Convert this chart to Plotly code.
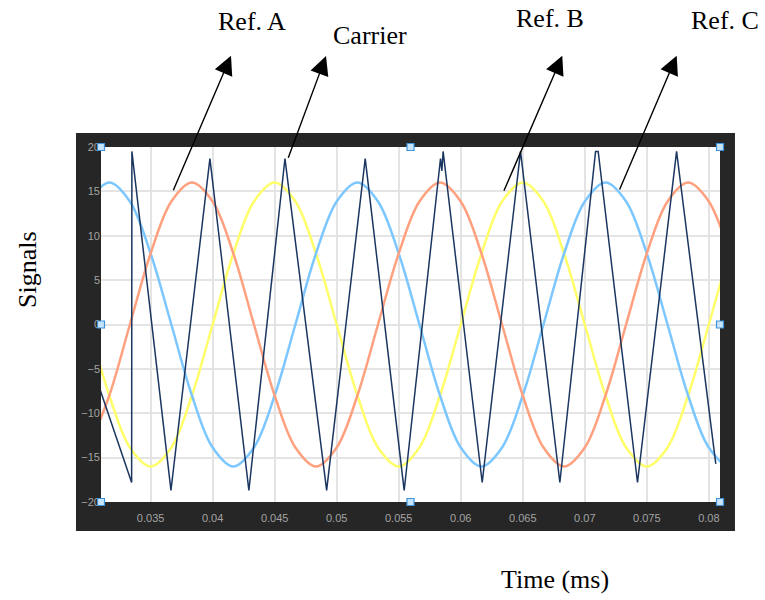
import plotly.graph_objects as go

# Shared time samples (s) for the three sinusoidal references
ref_t = [0.03000, 0.03167, 0.03333, 0.03500, 0.03667, 0.03833, 0.04000, 0.04167,
         0.04333, 0.04500, 0.04667, 0.04833, 0.05000, 0.05167, 0.05333, 0.05500,
         0.05667, 0.05833, 0.06000, 0.06167, 0.06333, 0.06500, 0.06667, 0.06833,
         0.07000, 0.07167, 0.07333, 0.07500, 0.07667, 0.07833, 0.08000, 0.08167, 0.08333]
ref_a_v = [-13.86, -8, 0, 8, 13.86, 16, 13.86, 8, 0, -8, -13.86, -16,
           -13.86, -8, 0, 8, 13.86, 16, 13.86, 8, 0, -8, -13.86, -16,
           -13.86, -8, 0, 8, 13.86, 16, 13.86, 8, 0]
ref_b_v = [0, -8, -13.86, -16, -13.86, -8, 0, 8, 13.86, 16, 13.86, 8,
           0, -8, -13.86, -16, -13.86, -8, 0, 8, 13.86, 16, 13.86, 8,
           0, -8, -13.86, -16, -13.86, -8, 0, 8, 13.86]
ref_c_v = [13.86, 16, 13.86, 8, 0, -8, -13.86, -16, -13.86, -8, 0, 8,
           13.86, 16, 13.86, 8, 0, -8, -13.86, -16, -13.86, -8, 0, 8,
           13.86, 16, 13.86, 8, 0, -8, -13.86, -16, -13.86]

# Triangular carrier vertices
carrier_t = [0.03033, 0.03347, 0.03349, 0.03664, 0.03978, 0.04292, 0.04583, 0.04919,
             0.05230, 0.05544, 0.05837, 0.05848, 0.05858, 0.06173, 0.06482, 0.06799,
             0.07087, 0.07108, 0.07425, 0.07740, 0.08056]
carrier_v = [-4.9, -17.8, 19.5, -18.7, 18.7, -18.7, 18.7, -18.7,
             18.7, -18.7, 18.7, 17.3, 19.5, -17.8, 19.5, -17.8,
             19.5, 19.5, -17.8, 19.5, -15.7]

x_tickvals = [0.035, 0.04, 0.045, 0.05, 0.055, 0.06, 0.065, 0.07, 0.075, 0.08]
x_ticktext = ["0.035", "0.04", "0.045", "0.05", "0.055", "0.06", "0.065", "0.07", "0.075", "0.08"]
y_tickvals = [-20, -15, -10, -5, 0, 5, 10, 15, 20]

ORANGE = "#ffa07f"
YELLOW = "#ffff6a"
BLUE = "#7cc7ff"
NAVY = "#1b3660"
FRAME = "#262626"

fig = go.Figure()
fig.add_trace(go.Scatter(x=ref_t, y=ref_b_v, mode="lines", line=dict(color=YELLOW, width=2.5, shape="spline")))
fig.add_trace(go.Scatter(x=ref_t, y=ref_c_v, mode="lines", line=dict(color=BLUE, width=2.5, shape="spline")))
fig.add_trace(go.Scatter(x=ref_t, y=ref_a_v, mode="lines", line=dict(color=ORANGE, width=2.5, shape="spline")))
fig.add_trace(go.Scatter(x=carrier_t, y=carrier_v, mode="lines", line=dict(color=NAVY, width=1.5)))

shapes = [
    # dark scope frame, then the white plotting area on top of it
    dict(type="rect", xref="paper", yref="paper", x0=-0.0404, x1=1.0242, y0=-0.0817, y1=1.0394,
         fillcolor=FRAME, line=dict(width=0), layer="below"),
    dict(type="rect", xref="paper", yref="paper", x0=0, x1=1, y0=0, y1=1,
         fillcolor="white", line=dict(width=0), layer="below"),
]
# small selection handles on corners and edge midpoints
for hx, hy in [(0, 0), (0.5, 0), (1, 0), (0, 0.5), (1, 0.5), (0, 1), (0.5, 1), (1, 1)]:
    shapes.append(dict(type="rect", xref="paper", yref="paper",
                       xsizemode="pixel", ysizemode="pixel", xanchor=hx, yanchor=hy,
                       x0=-3.5, x1=3.5, y0=-3.5, y1=3.5,
                       fillcolor="#c7e4fb", line=dict(color="#3d93dc", width=1.2), layer="above"))

serif = "Liberation Serif, Times New Roman, serif"
ann = []
for label, x, y in [("Ref. A", 0.2447, 1.3549), ("Carrier", 0.4346, 1.3127),
                    ("Ref. B", 0.7249, 1.3620), ("Ref. C", 1.0081, 1.3558)]:
    ann.append(dict(text=label, x=x, y=y, xref="paper", yref="paper", showarrow=False,
                    xanchor="center", yanchor="middle", font=dict(family=serif, size=26, color="black")))

# arrows from each curve to its label
for x, y, ax, ay in [(0.2100, 1.2572, -58.3, 136.0), (0.3635, 1.2563, -38.3, 103.3),
                     (0.7452, 1.2572, -59.0, 136.6), (0.9300, 1.2572, -57.7, 135.3)]:
    ann.append(dict(text="", x=x, y=y, xref="paper", yref="paper", ax=ax, ay=ay,
                    showarrow=True, arrowhead=2, arrowsize=2.7, arrowwidth=1.4, arrowcolor="black"))

ann.append(dict(text="Signals", x=-0.1195, y=0.6535, xref="paper", yref="paper", showarrow=False,
                textangle=-90, xanchor="center", yanchor="middle",
                font=dict(family=serif, size=26, color="black")))
ann.append(dict(text="Time (ms)", x=0.7334, y=-0.2197, xref="paper", yref="paper", showarrow=False,
                xanchor="center", yanchor="middle", font=dict(family=serif, size=26, color="black")))

tick_font = dict(family="Liberation Sans, Arial, sans-serif", size=11, color="#a3a3a3")
fig.update_layout(
    width=765, height=600,
    margin=dict(l=101, r=45, t=147, b=98),
    paper_bgcolor="white", plot_bgcolor="white",
    showlegend=False,
    shapes=shapes, annotations=ann,
    xaxis=dict(range=[0.031, 0.0809], tickvals=x_tickvals, ticktext=x_ticktext,
               showgrid=True, gridcolor="#e4e4e4", gridwidth=1.5, zeroline=False,
               showline=False, ticks="", tickfont=tick_font, ticklabelstandoff=8),
    yaxis=dict(range=[-20, 20], tickvals=y_tickvals,
               showgrid=True, gridcolor="#e4e4e4", gridwidth=1.5, zeroline=False,
               showline=False, ticks="", tickfont=tick_font),
)

fig.write_html("out.html")
